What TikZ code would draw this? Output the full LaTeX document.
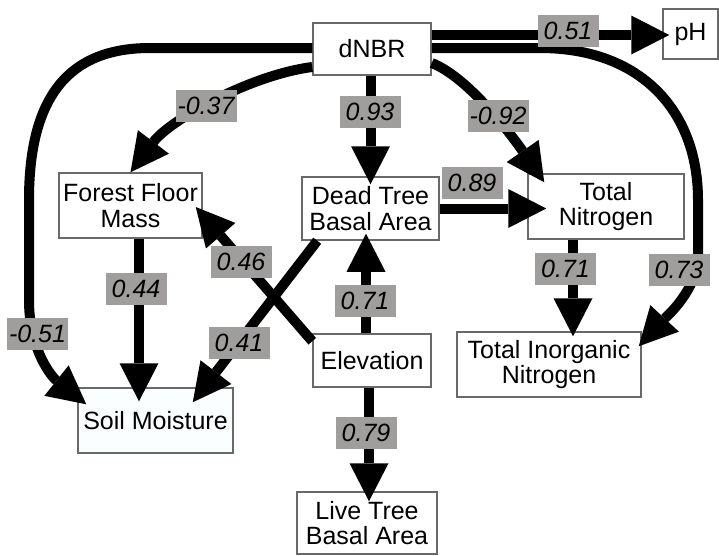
\documentclass[tikz,border=0pt]{standalone}
\usepackage{fontspec}
\setmainfont{Liberation Sans}
\usetikzlibrary{arrows.meta,calc}
\definecolor{lblgray}{RGB}{160,157,157}
\definecolor{boxborder}{RGB}{105,105,105}
\definecolor{smfill}{RGB}{251,254,255}
\begin{document}
\begin{tikzpicture}[x=1pt,y=-1pt,
  nbox/.style={draw=boxborder,line width=1.5pt,fill=white,inner sep=0pt,align=center,font=\fontsize{25}{25.5}\selectfont},
  lbl/.style={fill=lblgray,inner sep=0pt,minimum width=61pt,minimum height=32pt,font=\fontsize{25}{25}\selectfont\itshape},
  conn/.style={line width=10pt,-{Triangle[length=38pt,width=39pt,line width=0pt]}},
]
\useasboundingbox (0,0) rectangle (719,555);
% nodes
\node[nbox,minimum width=118pt,minimum height=52pt] (dnbr) at (372,49) {dNBR};
\node[nbox,minimum width=55pt,minimum height=50pt] (ph) at (690.5,34) {pH};
\node[nbox,minimum width=143pt,minimum height=65pt] (ffm) at (130.5,205.5) {Forest Floor\\Mass};
\node[nbox,minimum width=137pt,minimum height=63pt] (dtba) at (370.5,208.5) {Dead Tree\\Basal Area};
\node[nbox,minimum width=156pt,minimum height=65pt] (tn) at (606,206.5) {Total\\Nitrogen};
\node[nbox,minimum width=118pt,minimum height=53pt] (elev) at (372,360.5) {Elevation};
\node[nbox,minimum width=155pt,minimum height=65pt,fill=smfill] (sm) at (155.5,420.5) {Soil Moisture};
\node[nbox,minimum width=184pt,minimum height=65pt] (tin) at (549,364.5) {Total Inorganic\\Nitrogen};
\node[nbox,minimum width=140pt,minimum height=62pt] (ltba) at (367,523) {Live Tree\\Basal Area};
% connectors
\draw[conn] ($(dnbr.east)+(0,-14)$) -- ($(ph.west)+(7,1)$);
\draw[conn] ($(dnbr.west)+(0,18)$) .. controls (250,75) and (170,120) .. (ffm.north);
\draw[conn] ($(dnbr.west)+(0,-1)$) -- (150,48) .. controls (70,48) and (29,95) .. (29,200) -- (29,300) .. controls (29,350) and (52,377) .. ($(sm.north west)+(9,17)$);
\draw[conn] ($(dnbr.south)+(-1.5,0)$) -- ($(dtba.north)+(0,8)$);
\draw[conn] ($(dnbr.east)+(0,14)$) .. controls (470,78) and (515,140) .. ($(tn.north west)+(17,9)$);
\draw[conn] ($(dnbr.east)+(0,-1)$) -- (540,48) .. controls (640,48) and (698,110) .. (698,200) -- (698,255) .. controls (698,290) and (665,318) .. ($(tin.north east)+(-3,15)$);
\draw[conn] (dtba.east) -- ($(dtba.east -| tn.west)+(19,0)$);
\draw[conn] ($(elev.north)+(-6,0)$) -- ($(dtba.south)+(-4.5,-7)$);
\draw[conn] ($(elev.north west)+(0,8)$) -- ($(ffm.east)+(-7,1.5)$);
\draw[conn] ($(dtba.south west)+(16,0)$) -- ($(sm.north east)+(-41,15)$);
\draw[conn] ($(ffm.south)+(8.5,0)$) -- ($(sm.north)+(-16.5,14)$);
\draw[conn] ($(tn.south)+(-33,0)$) -- ($(tin.north)+(24,5)$);
\draw[conn] ($(elev.south)+(-3,0)$) -- ($(ltba.north)+(2,10)$);
% labels
\node[lbl] (l051) at (568,31) {0.51};
\node[lbl] (l037) at (206,106) {-0.37};
\node[lbl] (l093) at (370,112) {0.93};
\node[lbl] (l092) at (498,116) {-0.92};
\node[lbl] (l089) at (472,183) {0.89};
\node[lbl] (l046) at (241,262) {0.46};
\node[lbl] (l071a) at (365,301) {0.71};
\node[lbl] (l041) at (239,343) {0.41};
\node[lbl] (l044) at (136,289) {0.44};
\node[lbl] (l051b) at (37.5,334) {-0.51};
\node[lbl] (l071b) at (565.5,269) {0.71};
\node[lbl] (l073) at (679,270) {0.73};
\node[lbl] (l079) at (366,433) {0.79};
\end{tikzpicture}
\end{document}
